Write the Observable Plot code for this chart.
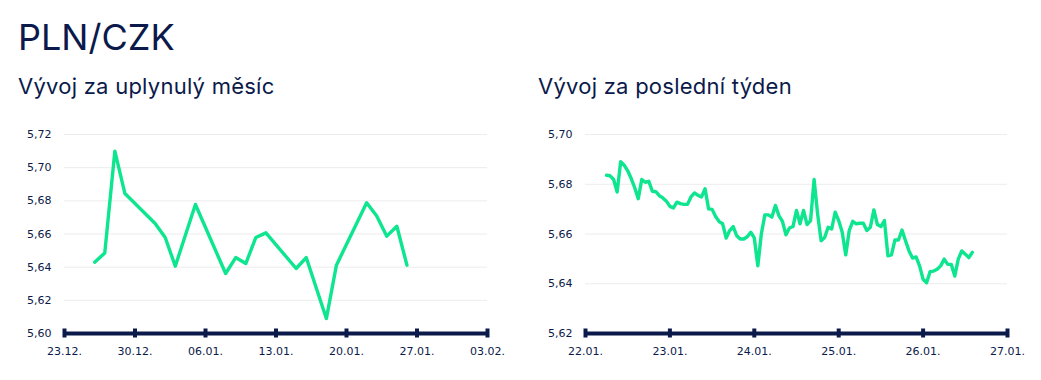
<!DOCTYPE html>
<html><head><meta charset="utf-8">
<script src="https://cdn.jsdelivr.net/npm/d3@7"></script>
<script src="https://cdn.jsdelivr.net/npm/@observablehq/plot@0.6"></script>
<style>
body{margin:0;background:#fff;}
#root{position:relative;width:1041px;height:380px;overflow:hidden;font-family:Inter,"Noto Sans",sans-serif;color:#0b1a4a;}
.t{position:absolute;white-space:nowrap;}
#title{left:18px;top:19px;font-size:36px;line-height:36px;}
.sub{top:75px;font-size:22px;line-height:22px;letter-spacing:0.25px;}
#c1{position:absolute;left:0;top:114px;}
#c2{position:absolute;left:520px;top:114px;}
</style></head><body>
<div id="root">
<div class="t" id="title">PLN/CZK</div>
<div class="t sub" style="left:18px">Vývoj za uplynulý měsíc</div>
<div class="t sub" style="left:538px">Vývoj za poslední týden</div>
<div id="c1"></div><div id="c2"></div>
</div>
<script>
// Monthly chart
const monthDates = ["2024-12-26","2024-12-27","2024-12-28","2024-12-29","2025-01-01","2025-01-02","2025-01-03","2025-01-05","2025-01-08","2025-01-09","2025-01-10","2025-01-11","2025-01-12","2025-01-15","2025-01-16","2025-01-18","2025-01-19","2025-01-22","2025-01-23","2025-01-24","2025-01-25","2025-01-26"];
const monthValues = [5.643,5.6486,5.710,5.6844,5.6663,5.6579,5.6406,5.6778,5.6362,5.6458,5.6422,5.6579,5.6607,5.6392,5.6458,5.609,5.6412,5.6788,5.6708,5.6587,5.6647,5.6412];
const monthXTicks = ["2024-12-23","2024-12-30","2025-01-06","2025-01-13","2025-01-20","2025-01-27","2025-02-03"];
const monthYTicks = [5.60,5.62,5.64,5.66,5.68,5.70,5.72];

// Weekly chart (hourly samples from 22.01. 06:00)
const weekStart = "2025-01-22T06:00:00Z";
const weekValues = [5.6836,5.6834,5.6819,5.6769,5.6891,5.6877,5.6854,5.6823,5.6786,5.6742,5.6819,5.6808,5.6812,5.6772,5.6770,5.6754,5.6745,5.6732,
5.6711,5.6705,5.6728,5.6722,5.6719,5.6719,5.6749,5.6765,5.6755,5.6749,5.6782,5.6701,5.6699,5.6670,5.6650,5.6641,5.6584,5.6614,5.6630,5.6593,5.6580,5.6580,5.6589,5.6607,
5.6584,5.6472,5.6600,5.6677,5.6677,5.6668,5.6715,5.6674,5.6651,5.6597,5.6624,5.6630,5.6695,5.6641,5.6695,5.6638,5.6654,5.6819,5.6681,5.6573,5.6586,5.6627,5.6620,5.6688,
5.6654,5.6607,5.6516,5.6614,5.6651,5.6641,5.6643,5.6643,5.6614,5.6627,5.6697,5.6638,5.6630,5.6654,5.6512,5.6516,5.6576,5.6576,5.6616,5.6573,5.6532,5.6503,5.6508,5.6472,
5.6418,5.6404,5.6449,5.6451,5.6458,5.6472,5.6499,5.6478,5.6478,5.6431,5.6499,5.6532,5.6519,5.6505,5.6526];
const weekXTicks = ["2025-01-22","2025-01-23","2025-01-24","2025-01-25","2025-01-26","2025-01-27"];
const weekYTicks = [5.62,5.64,5.66,5.68,5.70];

const NAVY = "#0b1a4a", GREEN = "#0de58f", GRID = "#ececec";
const fmtY = d => d.toFixed(2).replace(".", ",");
const fmtX = d3.utcFormat("%d.%m.");

const monthData = monthDates.map((d, i) => ({date: new Date(d + "T00:00:00Z"), value: monthValues[i]}));
const t0 = new Date(weekStart).getTime();
const weekData = weekValues.map((v, i) => ({date: new Date(t0 + i * 3600e3), value: v}));

function chart({data, width, marginLeft, marginRight, xTicks, yTicks}) {
  const xt = xTicks.map(d => new Date(d + "T00:00:00Z"));
  const yDomain = [yTicks[0], yTicks[yTicks.length - 1]];
  return Plot.plot({
    width, height: 266, marginTop: 20, marginBottom: 47, marginLeft, marginRight,
    style: {fontFamily: "'DejaVu Sans', sans-serif", fontSize: "11px", color: NAVY, background: "transparent", overflow: "visible"},
    x: {type: "utc", domain: [xt[0], xt[xt.length - 1]], axis: null, label: null},
    y: {domain: yDomain, axis: null, label: null},
    marks: [
      Plot.gridY(yTicks.slice(1), {stroke: GRID, strokeOpacity: 1}),
      Plot.line(data, {x: "date", y: "value", stroke: GREEN, strokeWidth: 3.4, strokeLinejoin: "round", strokeLinecap: "round"}),
      Plot.ruleY([yDomain[0]], {stroke: NAVY, strokeWidth: 4}),
      Plot.axisX(xt, {tickFormat: fmtX, tickSize: 9, dy: -4.5, strokeWidth: 4, color: NAVY, tickPadding: 9, label: null}),
      Plot.axisY(yTicks, {tickFormat: fmtY, tickSize: 0, tickPadding: 13, color: NAVY, label: null})
    ]
  });
}

document.getElementById("c1").append(chart({data: monthData, width: 520, marginLeft: 64, marginRight: 33, xTicks: monthXTicks, yTicks: monthYTicks}));
document.getElementById("c2").append(chart({data: weekData, width: 521, marginLeft: 65, marginRight: 34, xTicks: weekXTicks, yTicks: weekYTicks}));
</script>
</body></html>
